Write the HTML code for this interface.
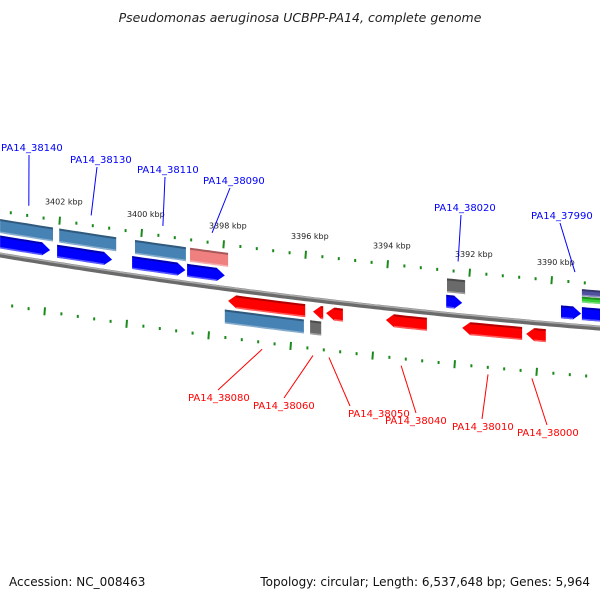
<!DOCTYPE html>
<html><head><meta charset="utf-8"><style>
html,body{margin:0;padding:0;background:#fff}
svg{display:block;font-family:"DejaVu Sans","Liberation Sans",sans-serif}
</style></head><body>
<svg id="map" width="600" height="600" viewBox="0 0 600 600" xmlns="http://www.w3.org/2000/svg">
<text x="300" y="22" text-anchor="middle" font-size="12.5" font-style="italic" fill="#222">Pseudomonas aeruginosa UCBPP-PA14, complete genome</text>
<text x="9" y="586" font-size="12" fill="#111">Accession: NC_008463</text>
<text x="590" y="586" font-size="12" text-anchor="end" fill="#111">Topology: circular; Length: 6,537,648 bp; Genes: 5,964</text>
<g id="g"></g>
</svg>
<script>
// ---- data ----
var majorTicks = [3402, 3400, 3398, 3396, 3394, 3392, 3390];
var tickLabels = ["3402 kbp","3400 kbp","3398 kbp","3396 kbp","3394 kbp","3392 kbp","3390 kbp"];
var fwdStart = [3403.46,3402.07,3400.24,3398.90,3392.58,3389.78,3389.27];
var fwdEnd   = [3402.24,3400.73,3398.94,3397.98,3392.19,3389.29,3388.83];
var upStart  = [3403.46,3402.02,3400.17,3398.83,3392.56];
var upEnd    = [3402.17,3400.63,3398.93,3397.90,3392.12];
var upColor  = ["#4682b4","#4682b4","#4682b4","#f08080","#6a6a6a"];
var revStart = [3397.90,3395.83,3395.51,3394.05,3392.19,3390.63];
var revEnd   = [3396.02,3395.58,3395.10,3393.05,3390.73,3390.15];
var downStart= [3397.98,3395.90];
var downEnd  = [3396.05,3395.63];
var downColor= ["#4682b4","#6a6a6a"];
var topLabels = ["PA14_38140","PA14_38130","PA14_38110","PA14_38090","PA14_38020","PA14_37990"];
var topLabelPos = [3402.76,3401.24,3399.49,3398.29,3392.29,3389.44];
var botLabels = ["PA14_38080","PA14_38060","PA14_38050","PA14_38040","PA14_38010","PA14_38000"];
var botLabelPos = [3397.07,3395.83,3395.44,3393.68,3391.56,3390.49];

// ---- axes ----
function X(k){ return (3403.463 - k) * 41; }
function Y(x){ return 255 + 0.165*x - 7.2e-5*x*x; }
var NS="http://www.w3.org/2000/svg", G=document.getElementById('g');
function el(t,a,p){var e=document.createElementNS(NS,t);for(var k in a)e.setAttribute(k,a[k]);(p||G).appendChild(e);return e;}

// backbone
var d="";for(var x=-5;x<=605;x+=5){d+=(x==-5?"M":"L")+x+","+Y(x).toFixed(1);}
var bb=el('path',{d:d,fill:"none",stroke:"#6a6a6a","stroke-width":5});


var bb2=el('path',{d:d,fill:"none",stroke:"#aaa","stroke-width":1.5,transform:"translate(0,-1.5)"});



// tick rings
function ring(off, shift, name){
  for(var k=3404; k>=3388; k=Math.round((k-0.4)*10)/10){
    var x=X(k)+shift; if(x<-3||x>603) continue;
    var y=Y(x)+off, maj=Math.abs(k-Math.round(k))<0.01 && Math.round(k)%2==0;
    var t=el('line',{x1:x,y1:y-(maj?4:1.5),x2:x+(maj?-0.6:0),y2:y+(maj?4:1.5),stroke:"#1a8a1a","stroke-width":2});
    
    
  }
}
ring(-44,0,'outer-ring');
ring(49,-15,'inner-ring');
majorTicks.forEach(function(k,i){
  var x=X(k)-15;
  var t=el('text',{x:x,y:Y(x)-58,"font-size":8,fill:"#222"});t.textContent=tickLabels[i];
  
  
});

// gene drawing
function gene(k1,k2,off,h,col,dir,name){
  var x1=X(k1),x2=X(k2),tip=dir?8:0;
  var pts=[],n=8,i,x;
  var bx1=x1,bx2=x2;
  if(dir==1)bx2=Math.max(x1,x2-tip); if(dir==-1)bx1=Math.min(x2,x1+tip);
  for(i=0;i<=n;i++){x=bx1+(bx2-bx1)*i/n;pts.push([x,Y(x)+off-h/2]);}
  if(dir==1)pts.push([x2,Y(x2)+off]);
  for(i=n;i>=0;i--){x=bx1+(bx2-bx1)*i/n;pts.push([x,Y(x)+off+h/2]);}
  if(dir==-1)pts.push([x1,Y(x1)+off]);
  var g=el('g',{});
  
  
  el('polygon',{points:pts.map(function(p){return p[0].toFixed(1)+","+p[1].toFixed(1)}).join(" "),fill:col},g);
  var s="";for(i=0;i<=n;i++){x=bx1+(bx2-bx1)*i/n;s+=(i?"L":"M")+x.toFixed(1)+","+(Y(x)+off-h/2+1).toFixed(1);}
  el('path',{d:s,stroke:"#000","stroke-opacity":0.3,"stroke-width":2,fill:"none"},g);
  s="";for(i=0;i<=n;i++){x=bx1+(bx2-bx1)*i/n;s+=(i?"L":"M")+x.toFixed(1)+","+(Y(x)+off+h/2-0.8).toFixed(1);}
  el('path',{d:s,stroke:"#fff","stroke-opacity":0.35,"stroke-width":1.5,fill:"none"},g);
}
fwdStart.forEach(function(s,i){gene(s,fwdEnd[i],-13,13,"#0000ff",(i==6?0:1),'forward-gene');});
upStart.forEach(function(s,i){gene(s,upEnd[i],-29,14,upColor[i],0,'forward-feature');});
gene(3389.27,3388.83,-27,6,"#32cd32",0,'forward-feature-green');
gene(3389.27,3388.83,-34,7,"#5050a0",0,'forward-feature-purple');
revStart.forEach(function(s,i){gene(s,revEnd[i],12,13,"#ff0000",-1,'reverse-gene');});
downStart.forEach(function(s,i){gene(s,downEnd[i],28,14,downColor[i],0,'reverse-feature');});

// labels
var topTx=[1,70,137,203,434,531], topTy=[151,163,173,184,211,219], topLx=[29,97,165,230,461,560];
var botTx=[188,253,348,385,452,517], botTy=[401,409,417,424,430,436], botLx=[218,284,350,416,482,547];
topLabels.forEach(function(l,i){
  var x=X(topLabelPos[i]), y=Y(x)-54;
  var ln=el('line',{x1:topLx[i],y1:topTy[i]+4,x2:x,y2:y,stroke:"#0000ff","stroke-width":1});
  
  
  var t=el('text',{x:topTx[i],y:topTy[i],"font-size":10,fill:"#0000ff"});t.textContent=l;
  
  
});
botLabels.forEach(function(l,i){
  var x=X(botLabelPos[i]), y=Y(x)+56;
  var ln=el('line',{x1:botLx[i],y1:botTy[i]-11,x2:x,y2:y,stroke:"#ff0000","stroke-width":1});
  
  
  var t=el('text',{x:botTx[i],y:botTy[i],"font-size":10,fill:"#ff0000"});t.textContent=l;
  
  
});
</script>
</body></html>
